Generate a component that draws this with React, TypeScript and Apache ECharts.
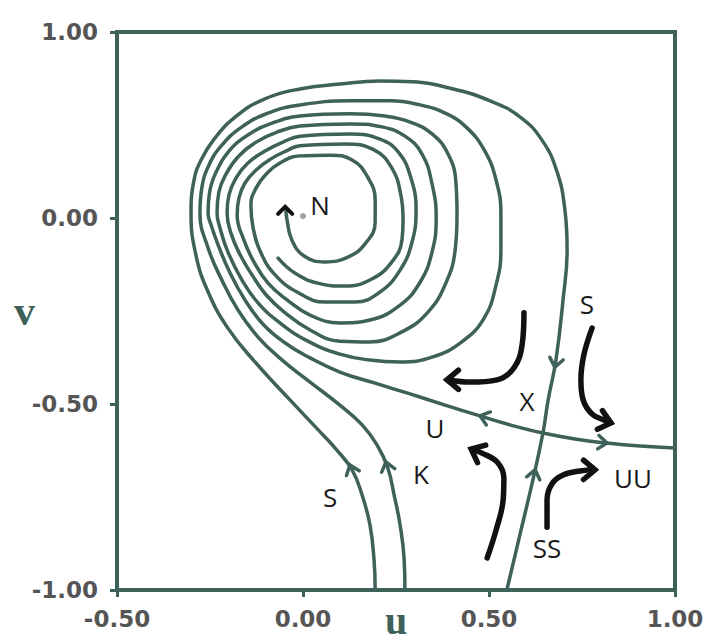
import React, { useEffect, useRef } from 'react';
import * as echarts from 'echarts';

// Axis ticks
const xTickValues = [-0.5, 0, 0.5, 1.0];
const yTickValues = [-1, -0.5, 0, 0.5];
const yTickLabels = ['-1.00', '-0.50', '0.00', '1.00'];

// Stable manifold S (from bottom-left, around the spiral, into X, down to SS)
const curveS: number[][] = [
  [0.194, -1.0], [0.191, -0.919], [0.18, -0.825], [0.159, -0.745], [0.132, -0.677],
  [0.091, -0.624], [0.046, -0.575], [-0.035, -0.489], [-0.129, -0.387], [-0.202, -0.296],
  [-0.255, -0.199], [-0.288, -0.099], [-0.301, 0.013], [-0.293, 0.102], [-0.274, 0.156],
  [-0.239, 0.212], [-0.185, 0.269], [-0.11, 0.317], [-0.008, 0.347], [0.099, 0.36],
  [0.207, 0.368], [0.293, 0.366], [0.395, 0.349], [0.503, 0.315], [0.583, 0.272],
  [0.642, 0.21], [0.683, 0.124], [0.704, 0.022], [0.71, -0.086], [0.699, -0.22],
  [0.68, -0.382], [0.659, -0.489], [0.645, -0.578], [0.618, -0.704], [0.583, -0.852],
  [0.548, -1.0],
];

// Trajectory K (from bottom, spiralling in)
const curveK: number[][] = [
  [0.274, -1.0], [0.272, -0.919], [0.261, -0.825], [0.245, -0.745], [0.228, -0.672],
  [0.199, -0.61], [0.159, -0.556], [0.099, -0.503], [0.019, -0.441], [-0.056, -0.382],
  [-0.121, -0.32], [-0.175, -0.247], [-0.218, -0.167], [-0.255, -0.081], [-0.277, 0.013],
  [-0.272, 0.081], [-0.253, 0.142], [-0.218, 0.196], [-0.164, 0.245], [-0.094, 0.282],
  [-0.008, 0.304], [0.126, 0.315], [0.234, 0.315], [0.315, 0.304], [0.382, 0.282],
  [0.438, 0.245], [0.487, 0.183], [0.519, 0.102], [0.532, 0.008], [0.532, -0.086],
  [0.519, -0.18], [0.487, -0.269], [0.427, -0.333], [0.347, -0.374], [0.261, -0.387],
  [0.18, -0.382], [0.099, -0.366], [0.013, -0.331], [-0.062, -0.282], [-0.121, -0.228],
  [-0.164, -0.167], [-0.202, -0.091], [-0.223, -0.027], [-0.231, 0.013],
  [-0.226, 0.07], [-0.207, 0.118], [-0.175, 0.164], [-0.126, 0.204], [-0.07, 0.231],
  [-0.008, 0.247], [0.126, 0.253], [0.212, 0.245], [0.274, 0.22], [0.32, 0.172],
  [0.347, 0.091], [0.358, 0.0], [0.347, -0.091], [0.315, -0.172], [0.261, -0.234],
  [0.18, -0.274], [0.099, -0.282], [0.019, -0.261], [-0.043, -0.22], [-0.094, -0.175],
  [-0.132, -0.118], [-0.159, -0.059], [-0.177, 0.008],
  [-0.172, 0.054], [-0.156, 0.094], [-0.126, 0.129], [-0.086, 0.159], [-0.046, 0.18],
  [-0.008, 0.194], [0.113, 0.199], [0.191, 0.183], [0.239, 0.134], [0.263, 0.062],
  [0.269, -0.005], [0.266, -0.059], [0.239, -0.118], [0.185, -0.164], [0.113, -0.183],
  [0.04, -0.175], [-0.022, -0.148], [-0.067, -0.108],
];

// Unstable manifold U/UU (from right edge through X, spiralling into N)
const curveU: number[][] = [
  [1.0, -0.618], [0.906, -0.613], [0.817, -0.605], [0.731, -0.594], [0.645, -0.578],
  [0.556, -0.556], [0.476, -0.532], [0.382, -0.503], [0.288, -0.473], [0.194, -0.444],
  [0.099, -0.414], [0.019, -0.376], [-0.048, -0.336], [-0.108, -0.285], [-0.156, -0.22],
  [-0.196, -0.148], [-0.228, -0.073], [-0.247, -0.019], [-0.255, 0.013],
  [-0.25, 0.075], [-0.231, 0.129], [-0.199, 0.18], [-0.148, 0.223], [-0.083, 0.255],
  [-0.008, 0.274], [0.126, 0.28], [0.22, 0.274], [0.288, 0.258], [0.347, 0.226],
  [0.39, 0.172], [0.411, 0.097], [0.414, 0.008], [0.409, -0.086], [0.384, -0.175],
  [0.336, -0.253], [0.266, -0.306], [0.18, -0.333], [0.099, -0.331], [0.019, -0.301],
  [-0.048, -0.255], [-0.099, -0.207], [-0.137, -0.153], [-0.169, -0.099], [-0.194, -0.04],
  [-0.204, 0.013],
  [-0.199, 0.062], [-0.18, 0.108], [-0.148, 0.148], [-0.102, 0.18], [-0.054, 0.204],
  [-0.008, 0.22], [0.126, 0.226], [0.207, 0.212], [0.258, 0.175], [0.29, 0.108],
  [0.304, 0.022], [0.293, -0.065], [0.261, -0.14], [0.207, -0.199], [0.14, -0.226],
  [0.059, -0.226], [-0.016, -0.199], [-0.075, -0.153], [-0.113, -0.094], [-0.134, -0.027],
  [-0.14, 0.035],
  [-0.126, 0.081], [-0.099, 0.118], [-0.062, 0.148], [-0.008, 0.167], [0.073, 0.169],
  [0.132, 0.156], [0.172, 0.113], [0.194, 0.048], [0.194, -0.011], [0.169, -0.067],
  [0.121, -0.105], [0.059, -0.118], [0.003, -0.102], [-0.03, -0.059], [-0.043, -0.005],
  [-0.046, 0.019],
];

// Hand-drawn black flow arrows (shafts)
const flowA: number[][] = [[0.594, -0.255], [0.589, -0.341], [0.567, -0.403], [0.522, -0.435], [0.449, -0.441], [0.395, -0.436]];
const flowB: number[][] = [[0.777, -0.296], [0.755, -0.368], [0.747, -0.435], [0.753, -0.489], [0.777, -0.527], [0.809, -0.543], [0.826, -0.55]];
const flowC: number[][] = [[0.495, -0.914], [0.519, -0.839], [0.538, -0.758], [0.54, -0.699], [0.522, -0.656], [0.481, -0.632], [0.455, -0.622]];
const flowD: number[][] = [[0.656, -0.831], [0.656, -0.758], [0.669, -0.715], [0.699, -0.691], [0.745, -0.68], [0.783, -0.677]];

// Arrowheads: [u, v, direction in degrees]
const tealHeads: number[][] = [
  [0.126, -0.664, 110], [0.223, -0.656, 105], [0.476, -0.532, 163],
  [0.817, -0.605, -6], [0.677, -0.401, -101], [0.624, -0.677, 77],
];
const blackHeads: number[][] = [
  [0.387, -0.435, 180], [0.828, -0.551, -15], [0.452, -0.621, 155], [0.785, -0.677, 0],
];
const centreHead: number[][] = [[-0.048, 0.03, 90]];

// Point N
const nodeN: number[][] = [[0.0, 0.005]];

// Text labels
const labelPos: number[][] = [
  [0.046, 0.035], [0.763, -0.231], [0.602, -0.492], [0.355, -0.565],
  [0.317, -0.688], [0.887, -0.699], [0.656, -0.887], [0.073, -0.75],
];
const labelTexts = ['N', 'S', 'X', 'U', 'K', 'UU', 'SS', 'S'];

const TEAL = '#3e615a';

function headSeries(data: number[][], color: string, len: number, spread: number, width: number) {
  return {
    type: 'custom',
    silent: true,
    z: 6,
    data,
    renderItem: (params: any, api: any) => {
      const p = api.coord([api.value(0), api.value(1)]);
      const a = (api.value(2) * Math.PI) / 180;
      const s = (spread * Math.PI) / 180;
      const b1 = [p[0] + len * Math.cos(a + Math.PI - s), p[1] - len * Math.sin(a + Math.PI - s)];
      const b2 = [p[0] + len * Math.cos(a + Math.PI + s), p[1] - len * Math.sin(a + Math.PI + s)];
      return {
        type: 'polyline',
        shape: { points: [b1, p, b2] },
        style: { stroke: color, lineWidth: width, fill: null, lineJoin: 'miter', lineCap: 'round' },
      };
    },
  };
}

function curveSeries(data: number[][], color: string, width: number, smooth: number) {
  return {
    type: 'line',
    data,
    smooth,
    showSymbol: false,
    symbol: 'none',
    silent: true,
    clip: true,
    lineStyle: { color, width, cap: 'round', join: 'round' },
    z: 3,
  };
}

export default function App() {
  const ref = useRef<HTMLDivElement>(null);
  useEffect(() => {
    document.body.style.margin = '0';
    if (!ref.current) return;
    const chart = echarts.init(ref.current, undefined, { renderer: 'svg' });
    chart.setOption({
      animation: false,
      backgroundColor: '#ffffff',
      grid: {
        left: 117, top: 32, width: 558, height: 558,
        outerBoundsMode: 'none', containLabel: false,
        show: true, borderColor: TEAL, borderWidth: 4, backgroundColor: 'transparent',
      },
      xAxis: {
        type: 'value', min: -0.5, max: 1.0, interval: 0.5,
        name: 'u', nameLocation: 'middle', nameGap: 10, nameMoveOverlap: false,
        nameTextStyle: { fontFamily: 'Liberation Serif', fontWeight: 'bold', fontSize: 40, color: TEAL },
        axisLine: { show: false, onZero: false },
        axisTick: { show: true, inside: false, length: 7, lineStyle: { color: TEAL, width: 3 } },
        splitLine: { show: false },
        axisLabel: {
          margin: 17, color: '#555555', fontFamily: 'DejaVu Sans', fontWeight: 'bold', fontSize: 23,
          formatter: (val: number) => (xTickValues.includes(val) ? val.toFixed(2) : ''),
        },
      },
      yAxis: {
        type: 'value', min: -1, max: 0.5, interval: 0.5,
        name: 'v', nameLocation: 'middle', nameRotate: 0, nameGap: 82, nameMoveOverlap: false,
        nameTextStyle: { fontFamily: 'Liberation Serif', fontWeight: 'bold', fontSize: 42, color: TEAL },
        axisLine: { show: false, onZero: false },
        axisTick: { show: true, inside: false, length: 7, lineStyle: { color: TEAL, width: 3 } },
        splitLine: { show: false },
        axisLabel: {
          margin: 19, color: '#555555', fontFamily: 'DejaVu Sans', fontWeight: 'bold', fontSize: 23,
          formatter: (val: number) => {
            const i = yTickValues.indexOf(val);
            return i >= 0 ? yTickLabels[i] : '';
          },
        },
      },
      series: [
        curveSeries(curveS, TEAL, 3.5, 0.45),
        curveSeries(curveK, TEAL, 3.5, 0.45),
        curveSeries(curveU, TEAL, 3.5, 0.45),
        curveSeries(flowA, '#111111', 5.5, 0.4),
        curveSeries(flowB, '#111111', 5.5, 0.4),
        curveSeries(flowC, '#111111', 5.5, 0.4),
        curveSeries(flowD, '#111111', 5.5, 0.4),
        headSeries(tealHeads, TEAL, 11, 38, 3.5),
        headSeries(blackHeads, '#111111', 15, 40, 5.5),
        headSeries(centreHead, '#111111', 10, 45, 4),
        {
          type: 'scatter', data: nodeN, symbolSize: 6, silent: true, z: 7,
          itemStyle: { color: '#8a8a8a' },
        },
        {
          type: 'custom', silent: true, z: 8, data: labelPos,
          renderItem: (params: any, api: any) => {
            const p = api.coord([api.value(0), api.value(1)]);
            return {
              type: 'text', x: p[0], y: p[1],
              style: {
                text: labelTexts[params.dataIndex], fill: '#1a1a1a',
                fontSize: 26, fontFamily: 'Open Sans', align: 'center', verticalAlign: 'middle',
              },
            };
          },
        },
      ],
    });
    return () => chart.dispose();
  }, []);
  return <div ref={ref} style={{ width: 707, height: 641 }} />;
}
